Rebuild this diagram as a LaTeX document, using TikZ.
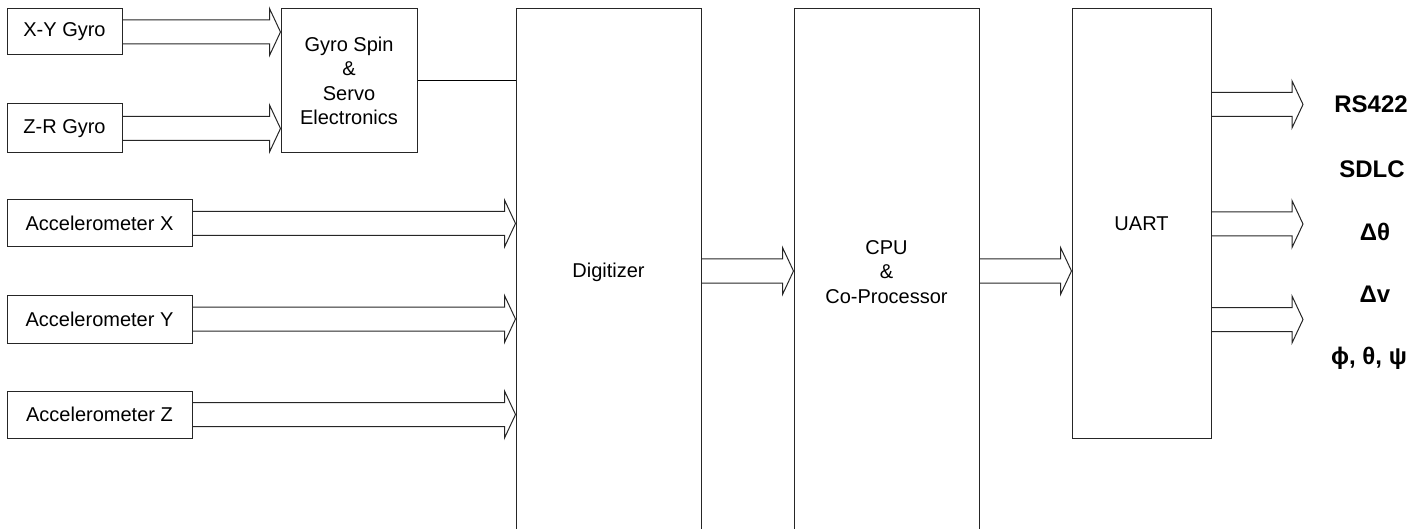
\documentclass[tikz,border=0pt]{standalone}
\usepackage{fontspec}
\setmainfont{Liberation Sans}
\usetikzlibrary{calc}

% broad hollow arrow: open at its tail, shaft 24pt wide, head 47pt wide and 11pt long
\newcommand\fatarrow[2]{%
  \draw[fat] let \p1=#1, \p2=#2 in
    (\x1,\y1+12pt) -- (\x2-11pt,\y1+12pt) -- (\x2-11pt,\y1+23.5pt) -- (\x2,\y1)
    -- (\x2-11pt,\y1-23.5pt) -- (\x2-11pt,\y1-12pt) -- (\x1,\y1-12pt);}

\begin{document}
\begin{tikzpicture}[x=1pt,y=1pt,
  line width=1pt,
  box/.style={draw=black!85, line width=1pt, inner sep=0pt, align=center,
              font=\fontsize{20}{24.5}\selectfont},
  fat/.style={draw=black!85, line width=1pt, line join=miter},
  outlabel/.style={font=\bfseries\fontsize{24}{28}\selectfont}]
\useasboundingbox (0,0) rectangle (1426,-529);
\clip (0,0) rectangle (1426,-529);

% sensors
\node[box, minimum width=115, minimum height=46] (xy) at (64.5,-32) {X-Y Gyro};
\node[box, minimum width=115, minimum height=49] (zr) at (64.5,-128.5) {Z-R Gyro};
\node[box, minimum width=185, minimum height=47] (ax) at (99.5,-223.5) {Accelerometer X};
\node[box, minimum width=185, minimum height=48] (ay) at (99.5,-319) {Accelerometer Y};
\node[box, minimum width=185, minimum height=47] (az) at (99.5,-414.5) {Accelerometer Z};

% processing chain
\node[box, minimum width=136, minimum height=144] (gs) at (349,-81)
  {Gyro Spin\\\&\\Servo\\Electronics};
\node[box, minimum width=185, minimum height=526] (dig) at (608.5,-272) {Digitizer};
\node[box, minimum width=185, minimum height=526] (cpu) at (886.5,-272)
  {CPU\\\&\\Co-Processor};
\node[box, minimum width=139, minimum height=429] (uart) at (1141.5,-223.5) {UART};

% output ends and labels
\coordinate (o1) at (1303,-104.5);
\coordinate (o2) at (1303,-224);
\coordinate (o3) at (1303,-319.5);
\node[outlabel] (rs)  at (1371,-104) {RS422};
\node[outlabel] (sd)  at (1372,-169) {SDLC};
\node[outlabel] (dth) at (1375,-232) {Δθ};
\node[outlabel] (dv)  at (1375,-294) {Δv};
\node[outlabel] (ang) at (1369,-358) {ϕ, θ, ψ};

% gyro inputs
\fatarrow{(xy.east)}{(gs.west |- xy.east)}
\fatarrow{(zr.east)}{(gs.west |- zr.east)}
\draw[draw=black] (gs.east) -- (dig.west |- gs.east);

% accelerometer inputs
\fatarrow{(ax.east)}{(dig.west |- ax.east)}
\fatarrow{(ay.east)}{(dig.west |- ay.east)}
\fatarrow{(az.east)}{(dig.west |- az.east)}

% data path
\fatarrow{($(dig.east)+(0,1)$)}{($(cpu.west)+(0,1)$)}
\fatarrow{($(cpu.east)+(0,1)$)}{(uart.west |- {$(cpu.east)+(0,1)$})}

% outputs
\fatarrow{(uart.east |- o1)}{(o1)}
\fatarrow{(uart.east |- o2)}{(o2)}
\fatarrow{(uart.east |- o3)}{(o3)}
\end{tikzpicture}
\end{document}
